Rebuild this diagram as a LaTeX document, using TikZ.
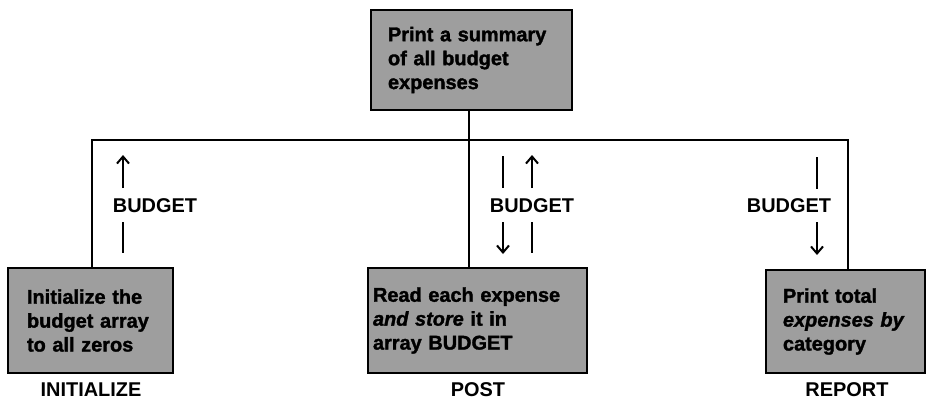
\documentclass[tikz,border=0pt]{standalone}
\usepackage{fontspec}
\setmainfont{Liberation Sans}
\newfontfamily\heavyfont[FakeBold=1.6]{Liberation Sans Bold}
\usetikzlibrary{arrows.meta,calc}
\begin{document}
\begin{tikzpicture}[x=1bp,y=-1bp,
  box/.style={draw=black,line width=2.8bp,fill=black!38,rectangle,align=left,
    font=\fontsize{20}{24}\selectfont\heavyfont,anchor=center},
  lbl/.style={font=\fontsize{20}{22}\selectfont\bfseries,inner sep=0pt},
  wire/.style={line width=2bp},
  arr/.style={line width=2bp,-{Straight Barb[length=7bp,width=12bp,line width=2bp]}}
]
\useasboundingbox (0,0) rectangle (927,401);
% boxes
\node[box,minimum width=201bp,minimum height=100bp,text width=167bp,inner xsep=17bp] (top) at (471.5,60) {Print a summary\\of all budget\\expenses};
\node[box,minimum width=165bp,minimum height=105bp,text width=127bp,inner xsep=19bp] (init) at (90.5,320.5) {Initialize the\\budget array\\to all zeros};
\node[box,minimum width=219bp,minimum height=105bp,text width=209bp,inner xsep=5bp] (post) at (477.5,320.5) {Read each expense\\\textit{and store} it in\\array BUDGET};
\node[box,minimum width=159bp,minimum height=103bp,text width=125bp,inner xsep=17bp] (rep) at (845.5,321.5) {Print total\\\textit{expenses by}\\category};
% module names
\node[lbl] (ninit) at (91,390) {INITIALIZE};
\node[lbl] (npost) at (478,390) {POST};
\node[lbl] (nrep) at (847,390) {REPORT};
% tree connectors
\coordinate (lx) at (92,140);
\coordinate (mx) at (469,140);
\coordinate (rx) at (848,140);
\draw[wire] (init.north -| lx) -- (lx) -- (rx) -- (rep.north -| rx);
\draw[wire] (top.south -| mx) -- (post.north -| mx);
% data labels
\node[lbl] (b1) at (155,206) {BUDGET};
\node[lbl] (b2) at (532,206) {BUDGET};
\node[lbl] (b3) at (789,206) {BUDGET};
% left flow
\coordinate (l1) at (123,188); \coordinate (l2) at (123,155);
\coordinate (l3) at (123,222); \coordinate (l4) at (123,253);
\draw[arr] (l1) -- (l2);
\draw[wire] (l3) -- (l4);
% middle flow
\coordinate (m1) at (503,156); \coordinate (m2) at (503,188);
\coordinate (m3) at (532,188); \coordinate (m4) at (532,155);
\coordinate (m5) at (503,222); \coordinate (m6) at (503,254);
\coordinate (m7) at (532,222); \coordinate (m8) at (532,253);
\draw[wire] (m1) -- (m2);
\draw[arr] (m3) -- (m4);
\draw[arr] (m5) -- (m6);
\draw[wire] (m7) -- (m8);
% right flow
\coordinate (r1) at (817,157); \coordinate (r2) at (817,189);
\coordinate (r3) at (817,222); \coordinate (r4) at (817,255);
\draw[wire] (r1) -- (r2);
\draw[arr] (r3) -- (r4);
\end{tikzpicture}
\end{document}
